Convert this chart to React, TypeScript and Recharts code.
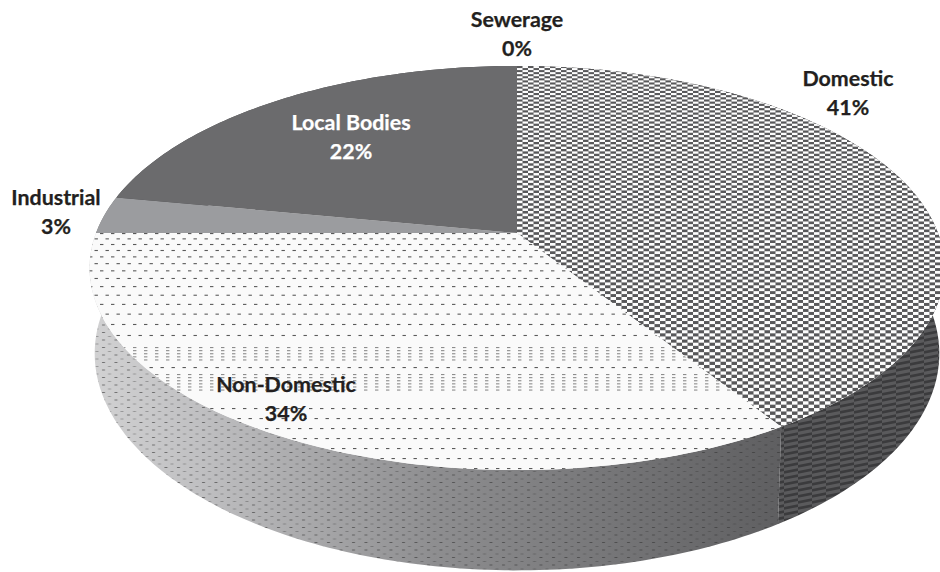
import React from 'react';
import { PieChart, Pie } from 'recharts';

const categories = ['Domestic', 'Non-Domestic', 'Industrial', 'Local Bodies', 'Sewerage'];
const shares = [41, 34, 3, 22, 0];

const topFills = ['url(#domesticTop)', 'url(#nonDomesticTop)', '#9b9c9f', '#6b6b6d', '#6b6b6d'];
const wallFills = ['url(#domesticWall)', 'url(#nonDomesticShade)', '#77787a', '#4d4d4f', '#4d4d4f'];
const labelColors = ['#231f20', '#231f20', '#231f20', '#ffffff', '#231f20'];
// centre of the first text line for each label
const labelAnchors = [
  [848, 78],
  [286, 384],
  [56, 197],
  [351, 122],
  [517, 19],
];

const sliceData = categories.map((name, i) => ({ name, value: shares[i] }));

// tilted disc with a little perspective: the near edge is drawn larger
const TILT = 0.4656;
const PERSPECTIVE = 0.173;
const WALL = 83;
const WALL_NARROW = 0.988;

function project(cx: number, cy: number, r: number, deg: number, lowered = false) {
  const a = (deg * Math.PI) / 180;
  const u = Math.cos(a);
  const v = -Math.sin(a);
  const w = 1 - PERSPECTIVE * v;
  const x = (r * u) / w;
  const y = (r * TILT * v) / w;
  return lowered ? [cx + x * WALL_NARROW, cy + y + WALL / w] : [cx + x, cy + y];
}

function arcPoints(cx: number, cy: number, r: number, from: number, to: number, lowered = false) {
  const steps = Math.max(2, Math.ceil(Math.abs(to - from)));
  const pts: number[][] = [];
  for (let i = 0; i <= steps; i++) {
    pts.push(project(cx, cy, r, from + ((to - from) * i) / steps, lowered));
  }
  return pts;
}

const toPath = (pts: number[][]) =>
  pts.map((p, i) => `${i ? 'L' : 'M'}${p[0].toFixed(2)} ${p[1].toFixed(2)}`).join(' ') + ' Z';

function TopSlice(props: any) {
  const { cx, cy, outerRadius, startAngle, endAngle, name } = props;
  if (startAngle === endAngle) return null;
  const pts = [[cx, cy], ...arcPoints(cx, cy, outerRadius, startAngle, endAngle)];
  return <path d={toPath(pts)} fill={topFills[categories.indexOf(name)]} stroke="none" />;
}

function WallSlice(props: any) {
  const { cx, cy, outerRadius, startAngle, endAngle, name } = props;
  if (startAngle === endAngle) return null;
  const upper = arcPoints(cx, cy, outerRadius, startAngle, endAngle);
  const lower = arcPoints(cx, cy, outerRadius, endAngle, startAngle, true);
  const d = toPath([...upper, ...lower]);
  return (
    <g>
      <path d={d} fill={wallFills[categories.indexOf(name)]} stroke="none" />
      {name === 'Non-Domestic' && <path d={d} fill="url(#nonDomesticDots)" stroke="none" />}
    </g>
  );
}

function SliceLabel(props: any) {
  const i = categories.indexOf(props.name);
  const [x, y] = labelAnchors[i];
  return (
    <text
      x={x}
      y={y}
      textAnchor="middle"
      dominantBaseline="central"
      fontFamily="Lato, sans-serif"
      fontWeight={700}
      fontSize={21.4}
      fill={labelColors[i]}
      stroke={labelColors[i]}
      strokeWidth={0.25}
    >
      <tspan x={x}>{props.name}</tspan>
      <tspan x={x} dy={29}>{`${props.value}%`}</tspan>
    </text>
  );
}

// checker of bricks whose rows get taller towards the near edge
function domesticRows() {
  const rows = [];
  let y = 60;
  let odd = false;
  while (y < 480) {
    const h = 2 + ((y - 60) / 420) * 1.7;
    rows.push(<rect key={y} x={odd ? 5.5 : 0} y={y} width={5.5} height={h} fill="#fdfdfd" />);
    y += h;
    odd = !odd;
  }
  return rows;
}

// dotted rows: loose at the far edge, bunching into short columns across the middle
function dottedRows() {
  const ys: number[] = [];
  let y = 228;
  while (y < 340) {
    ys.push(y);
    y += 5 + ((y - 228) / 112) * 7;
  }
  const clusters = [
    [347, 362],
    [374, 392],
  ];
  const clustered = new Set<number>();
  clusters.forEach(([from, to]) => {
    for (let c = from; c <= to; c += 3.1) {
      ys.push(c);
      clustered.add(c);
    }
  });
  [367, 408, 418, 428, 438, 448, 458, 468].forEach((r) => ys.push(r));
  return ys.map((row, i) => (
    <rect
      key={row}
      x={clustered.has(row) || i % 2 ? 1 : 6.5}
      y={row}
      width={3.4}
      height={1.1}
      fill={clustered.has(row) ? '#8c8c8c' : '#5a5a5a'}
    />
  ));
}

export default function App() {
  return (
    <div style={{ position: 'absolute', left: 0, top: 0, width: 940, height: 572, background: '#fff' }}>
      <PieChart width={940} height={572} margin={{ top: 0, right: 0, bottom: 0, left: 0 }}>
        <defs>
          <pattern id="domesticTop" patternUnits="userSpaceOnUse" width={11} height={572}>
            <rect width={11} height={572} fill="#58585a" />
            {domesticRows()}
          </pattern>
          <pattern id="nonDomesticTop" patternUnits="userSpaceOnUse" width={11} height={572}>
            <rect width={11} height={572} fill="#fafafa" />
            {dottedRows()}
          </pattern>
          <linearGradient id="nonDomesticShade" gradientUnits="userSpaceOnUse" x1={88} y1={0} x2={780} y2={0}>
            <stop offset="0" stopColor="#d2d2d3" />
            <stop offset="0.16" stopColor="#c0c0c2" />
            <stop offset="0.5" stopColor="#8e8e90" />
            <stop offset="1" stopColor="#5f5f61" />
          </linearGradient>
          <pattern id="nonDomesticDots" patternUnits="userSpaceOnUse" width={12.5} height={15}>
            <rect x={2} y={2} width={3} height={1} fill="#333" opacity={0.6} />
            <rect x={2} y={9.5} width={3} height={1} fill="#333" opacity={0.6} />
            <rect x={8} y={6} width={3} height={1} fill="#333" opacity={0.35} />
            <rect x={8} y={13.5} width={3} height={1} fill="#333" opacity={0.35} />
          </pattern>
          <pattern id="domesticWall" patternUnits="userSpaceOnUse" width={14} height={6}>
            <rect width={14} height={6} fill="#5a5a5c" />
            <path d="M-1 4.5 L15 1.5" stroke="#3b3b3d" strokeWidth={2.6} fill="none" />
            <path d="M-1 10.5 L15 7.5" stroke="#3b3b3d" strokeWidth={2.6} fill="none" />
            <path d="M-1 -1.5 L15 -4.5" stroke="#3b3b3d" strokeWidth={2.6} fill="none" />
          </pattern>
        </defs>
        <Pie
          data={sliceData}
          dataKey="value"
          nameKey="name"
          cx={517}
          cy={233}
          outerRadius={421}
          startAngle={90}
          endAngle={-270}
          paddingAngle={0}
          stroke="none"
          isAnimationActive={false}
          shape={WallSlice}
        />
        <Pie
          data={sliceData}
          dataKey="value"
          nameKey="name"
          cx={517}
          cy={233}
          outerRadius={421}
          startAngle={90}
          endAngle={-270}
          paddingAngle={0}
          stroke="none"
          isAnimationActive={false}
          shape={TopSlice}
          label={SliceLabel}
          labelLine={false}
        />
      </PieChart>
    </div>
  );
}
